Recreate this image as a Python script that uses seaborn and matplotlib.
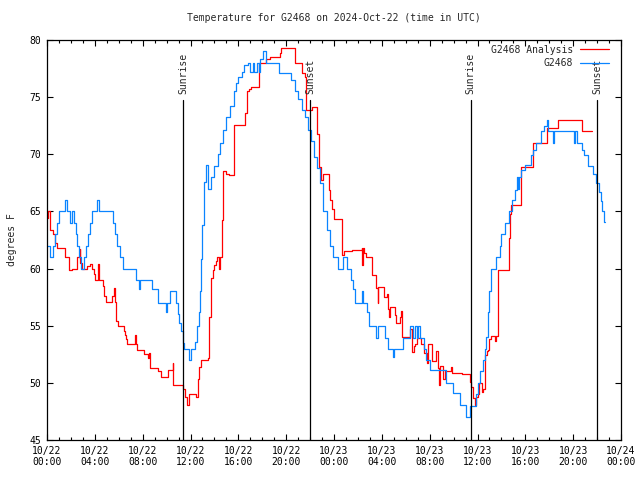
import matplotlib
matplotlib.use("Agg")
import matplotlib.pyplot as plt
import matplotlib.dates as mdates
import seaborn as sns
import pandas as pd

# hours after 2024-10-22 00:00 UTC, temperature [F]
obs_hours = [0.0, 0.25, 0.5, 0.7, 0.85, 1.0, 1.5, 1.7, 1.9, 2.05, 2.25, 2.4, 2.55, 2.7, 2.85,
             3.1, 3.3, 3.45, 3.6, 3.75, 4.15, 4.35, 5.5, 5.7, 5.85, 6.1, 6.35, 7.45, 7.7, 7.8,
             8.75, 9.3, 9.95, 10.05, 10.25, 10.8, 10.95, 11.05, 11.2, 11.35, 11.45, 11.9, 12.0,
             12.4, 12.55, 12.7, 12.78, 12.88, 12.95, 13.1, 13.3, 13.5, 13.75, 14.0, 14.3, 14.5,
             14.75, 15.0, 15.3, 15.6, 15.8, 16.0, 16.3, 16.5, 16.8, 17.0, 17.2, 17.35, 17.55,
             17.7, 17.8, 18.05, 18.3, 19.4, 20.4, 20.7, 21.0, 21.3, 21.6, 21.85, 22.1, 22.3,
             22.55, 22.8, 23.1, 23.4, 23.65, 23.9, 24.3, 24.75, 25.05, 25.4, 25.55, 25.75,
             26.3, 26.45, 26.75, 26.95, 27.55, 27.65, 28.15, 28.25, 28.5, 28.9, 29.0, 29.75,
             30.35, 30.6, 30.75, 30.9, 31.05, 31.2, 31.5, 31.7, 32.0, 33.35, 33.95, 34.5,
             35.05, 35.4, 35.85, 36.05, 36.25, 36.45, 36.6, 36.75, 36.85, 36.95, 37.1, 37.55,
             37.85, 38.0, 38.3, 38.6, 38.85, 39.1, 39.3, 39.4, 39.5, 39.65, 39.95, 40.45, 40.6,
             40.9, 41.35, 41.6, 41.8, 41.9, 42.3, 42.4, 44.05, 44.15, 44.3, 44.7, 44.9, 45.2,
             45.7, 45.9, 46.15, 46.3, 46.45, 46.6, 46.7]
obs_temp = [62, 61, 62, 63, 64, 65, 66, 65, 64, 65, 64, 63, 62, 61, 60,
            61, 62, 63, 64, 65, 66, 65, 64, 63, 62, 61, 60, 59, 58.2, 59,
            58.2, 57, 56.2, 57, 58, 57, 56, 55.2, 54.5, 53.5, 53, 52, 53,
            53.6, 55, 56.2, 58, 60.8, 63.8, 67.6, 69.1, 67, 68, 69, 70, 71,
            72.1, 73.3, 74.2, 75.5, 76.2, 76.8, 77.2, 77.8, 78, 77.2, 78, 77.2, 78,
            77.2, 78.3, 79, 78, 77.1, 76.5, 75.5, 74.8, 73.9, 73.3, 72.1, 71.2, 69.8,
            68.8, 67.5, 65, 63.4, 62, 61, 60, 61, 60, 59, 58.2, 57,
            58, 57, 56.2, 55, 53.9, 55, 55, 53.9, 53, 52.3, 53, 53.9,
            55, 53.9, 55, 53.9, 55, 53.9, 53, 52, 51.1, 50, 49.1, 48.1,
            47, 48, 49, 50, 51, 52, 53, 54, 56.2, 58, 60, 61,
            62, 63, 64, 65, 66, 66.9, 68, 67, 68, 68.6, 69.05, 69.9, 70.4,
            71, 72, 72.5, 73, 72, 71, 72, 71, 72, 71, 70.4, 69.9, 69,
            68.3, 67.5, 66.7, 65.9, 65, 64.1, 64.1]

ana_hours = [0.0, 0.05, 0.25, 0.5, 0.65, 0.8, 1.5, 1.8, 2.1, 2.55, 2.75, 2.8, 2.9, 3.35, 3.6,
             3.75, 3.9, 4.0, 4.3, 4.35, 4.65, 4.8, 4.9, 5.45, 5.6, 5.7, 5.8, 5.9, 6.4, 6.5,
             6.6, 6.7, 7.35, 7.45, 7.55, 8.1, 8.45, 8.55, 8.6, 9.3, 9.5, 10.1, 10.5, 10.55,
             11.4, 11.5, 11.7, 11.85, 12.5, 12.65, 12.75, 12.9, 13.5, 13.57, 13.7, 13.85, 14.0,
             14.1, 14.2, 14.4, 14.5, 14.6, 14.7, 15.0, 15.2, 15.6, 16.55, 16.75, 16.9, 17.1,
             17.7, 18.3, 18.65, 19.5, 19.6, 20.7, 21.35, 21.55, 21.65, 22.2, 22.6, 22.75,
             22.95, 23.05, 23.55, 23.7, 23.85, 24.0, 24.65, 24.7, 24.8, 25.5, 26.3, 26.35,
             26.45, 26.55, 26.65, 27.15, 27.55, 27.65, 27.7, 28.2, 28.4, 28.55, 28.6, 28.65,
             29.1, 29.2, 29.5, 29.6, 29.7, 30.35, 30.5, 30.65, 30.8, 30.9, 31.3, 31.5, 31.8,
             31.85, 32.2, 32.55, 32.7, 32.8, 32.9, 33.15, 33.25, 33.75, 33.85, 34.45, 34.7,
             35.35, 35.45, 35.6, 35.65, 35.75, 35.85, 36.0, 36.15, 36.35, 36.5, 36.6, 36.65,
             36.8, 36.9, 37.0, 37.1, 37.45, 37.55, 37.7, 37.75, 38.65, 38.7, 38.8, 39.6,
             40.65, 41.8, 42.75, 44.7, 45.6]
ana_temp = [64.4, 65, 63.4, 63, 62.2, 61.8, 61, 59.9, 60, 61, 61.7, 60.5, 60, 60.2, 60.4,
            60, 59.5, 59, 60.4, 59, 58.5, 57.6, 57.1, 57.6, 58.3, 57.1, 55.4, 55, 54.5, 54.2,
            53.8, 53.4, 54.2, 53.4, 52.9, 52.5, 52.2, 52.6, 51.3, 51, 50.55, 51.1, 51.7, 49.8,
            49.5, 48.8, 48.1, 49, 48.8, 50.3, 51.4, 52, 52.2, 55.8, 59.15, 59.9, 60.3,
            60.7, 61, 60, 61, 64.25, 68.5, 68.3, 68.2, 72.6, 73.6, 75.5, 75.7, 75.9,
            78, 78.3, 78.5, 78.85, 79.3, 78, 77.1, 76.8, 73.9, 74.1, 71.8, 68.9,
            67.75, 68.3, 66.9, 66, 65.2, 64.3, 62.65, 61.2, 61.5, 61.6, 61.8, 60.3,
            61.8, 61.4, 61, 59.4, 58.3, 57, 58.4, 57.5, 57.8, 56.5, 55.8, 56.6,
            55.9, 55.25, 55.8, 56.3, 54.05, 54.7, 52.7, 53.2, 53.4, 53.9, 53.4, 52.6, 51.7,
            53.4, 51.9, 52.8, 51.3, 49.8, 51.5, 50.3, 51.0, 51.4, 50.85, 50.9, 50.8,
            50.1, 49.6, 49.4, 48.65, 48.1, 48.8, 49.0, 50, 49.2, 49.5, 50.9, 52.4,
            52.8, 52.9, 53.8, 54.1, 53.7, 54.1, 57.1, 59.9, 62.65, 64.8, 65.6, 68.85,
            71.0, 72.3, 73.0, 72.05, 72.05]

sun_events = ["2024-10-22 11:24", "2024-10-22 22:00", "2024-10-23 11:26", "2024-10-23 22:00"]
sun_labels = ["Sunrise", "Sunset", "Sunrise", "Sunset"]

start = pd.Timestamp("2024-10-22 00:00")
df_obs = pd.DataFrame({"time": start + pd.to_timedelta(obs_hours, unit="h"), "temp": obs_temp})
df_ana = pd.DataFrame({"time": start + pd.to_timedelta(ana_hours, unit="h"), "temp": ana_temp})

sns.set_style("ticks")
plt.rcParams["font.family"] = ["DejaVu Sans Mono"]
plt.rcParams["font.size"] = 7

fig = plt.figure(figsize=(6.4, 4.8), dpi=100)
ax = fig.add_axes([47 / 640, 40 / 480, 574 / 640, 400 / 480])

sns.lineplot(data=df_ana, x="time", y="temp", ax=ax, color="#ff0000", lw=0.9,
             drawstyle="steps-post", estimator=None, label="G2468 Analysis")
sns.lineplot(data=df_obs, x="time", y="temp", ax=ax, color="#0a84ff", lw=0.9,
             drawstyle="steps-post", estimator=None, label="G2468")

for ev, lab in zip(sun_events, sun_labels):
    t = pd.Timestamp(ev)
    ax.axvline(t, ymin=0, ymax=0.85, color="black", lw=0.9)
    ax.text(t, 0.865, lab, transform=ax.get_xaxis_transform(), rotation=90,
            ha="center", va="bottom", fontsize=7)

ax.set_xlim(start, start + pd.Timedelta(hours=48))
ax.set_ylim(45, 80)
ax.set_yticks(range(45, 81, 5))
ax.xaxis.set_major_locator(mdates.HourLocator(byhour=range(0, 24, 4)))
ax.xaxis.set_minor_locator(mdates.HourLocator())
ax.xaxis.set_major_formatter(mdates.DateFormatter("%m/%d\n%H:%M"))

for sp in ax.spines.values():
    sp.set_visible(True)
    sp.set_color("black")
    sp.set_linewidth(0.9)
ax.tick_params(which="both", direction="in", top=True, right=True, colors="black",
               labelsize=7, width=0.8)
ax.tick_params(which="major", length=4.5, pad=4)
ax.tick_params(which="minor", length=2.5)

ax.set_xlabel("")
ax.set_ylabel("degrees F", fontsize=7, labelpad=9)
ax.set_title("Temperature for G2468 on 2024-Oct-22 (time in UTC)", fontsize=7, pad=14)

ax.legend(loc="upper right", bbox_to_anchor=(1 - 7 / 574, 1), frameon=False,
          markerfirst=False, fontsize=7, handlelength=3.0, handletextpad=0.7,
          labelspacing=0.35, borderaxespad=0.3, borderpad=0.2)

fig.savefig("out.png", dpi=100)
